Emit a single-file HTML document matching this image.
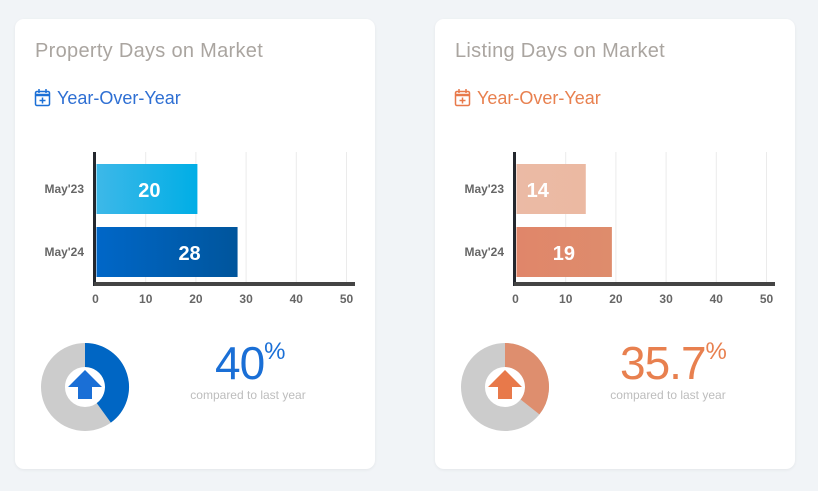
<!DOCTYPE html>
<html><head><meta charset="utf-8">
<style>
body{margin:0;width:818px;height:491px;background:#f1f4f7;position:relative;overflow:hidden;font-family:"Liberation Sans",sans-serif}
.card{position:absolute;top:19px;width:360px;height:450px;background:#fff;border-radius:9px;box-shadow:0 1px 3px rgba(0,0,0,0.06)}
.title{position:absolute;left:20px;top:21px;font-size:20px;color:#aaa5a0;letter-spacing:0.3px}
.yoy{position:absolute;left:42px;top:69px;font-size:18px}
.pct{position:absolute;font-size:46px;top:317px;letter-spacing:-1px}
.pct sup{font-size:24px;vertical-align:top;position:relative;top:2px}
.cmp{position:absolute;top:369px;font-size:12px;color:#bdbdbd;width:200px;text-align:center}
</style></head><body>
<div class="card" style="left:15px">
<div class="title">Property Days on Market</div>
<div class="yoy" style="color:#2e6fd3">Year-Over-Year</div>
<div class="pct" style="left:200px;color:#1a6fd6">40<sup>%</sup></div>
<div class="cmp" style="left:133px">compared to last year</div>
</div>
<div class="card" style="left:435px">
<div class="title">Listing Days on Market</div>
<div class="yoy" style="color:#e8804f">Year-Over-Year</div>
<div class="pct" style="left:185px;color:#e8804f">35.7<sup>%</sup></div>
<div class="cmp" style="left:133px">compared to last year</div>
</div>
<svg id="s" width="818" height="491" style="position:absolute;left:0;top:0">
<defs>
<linearGradient id="b1" x1="0" x2="1"><stop offset="0" stop-color="#3db8e8"/><stop offset="1" stop-color="#00aee6"/></linearGradient>
<linearGradient id="b2" x1="0" x2="1"><stop offset="0" stop-color="#0067c8"/><stop offset="1" stop-color="#00559c"/></linearGradient>
<linearGradient id="o1" x1="0" x2="1"><stop offset="0" stop-color="#ebbaa5"/><stop offset="1" stop-color="#ebb9a2"/></linearGradient>
<linearGradient id="o2" x1="0" x2="1"><stop offset="0" stop-color="#e0866a"/><stop offset="1" stop-color="#de8c6c"/></linearGradient>
</defs>
</svg>
<script>
const categories=["May'23","May'24"];
const leftValues=[20.3,28.3];
const leftLabels=["20","28"];
const rightValues=[14,19.2];
const rightLabels=["14","19"];
const ticks=[0,10,20,30,40,50];
const leftPct=40;
const rightPct=35.7;
const NS="http://www.w3.org/2000/svg";
const svg=document.getElementById('s');
function mk(t,a,p){const e=document.createElementNS(NS,t);for(const k in a)e.setAttribute(k,a[k]);(p||svg).appendChild(e);return e;}
function chart(ox,vals,labs,fills,pct,col,icol,name){
  const g=mk('g',{});
  
  
  const x=v=>ox+95.5+v*5.02;
  ticks.forEach(t=>{
    if(t>0){const l=mk('line',{x1:x(t),x2:x(t),y1:152,y2:282,stroke:'#ebebeb','stroke-width':1},g);
    }
    const tx=mk('text',{x:x(t),y:303,'text-anchor':'middle','font-size':12,'font-weight':'bold',fill:'#666'},g);
    
    tx.textContent=t;
  });
  const bandY=[164,227];
  vals.forEach((v,i)=>{
    const r=mk('rect',{x:x(0)+1,y:bandY[i],width:x(v)-x(0)-1,height:50,fill:fills[i]},g);
    
    const t=mk('text',{x:x(v)-48,y:bandY[i]+33,'text-anchor':'middle','font-size':20,'font-weight':'bold',fill:'#fff'},g);
    
    t.textContent=labs[i];
    const c=mk('text',{x:ox+84,y:bandY[i]+29,'text-anchor':'end','font-size':12,'font-weight':'bold',fill:'#666'},g);
    
    c.textContent=categories[i];
  });
  const ya=mk('rect',{x:ox+93,y:152,width:3,height:134,fill:'#23272e'},g);
  
  const xa=mk('rect',{x:ox+94,y:282,width:261,height:4,fill:'#444'},g);
  
  const cx=ox+85,cy=387,R=44,r=20;
  const bg=mk('circle',{cx:cx,cy:cy,r:(R+r)/2,fill:'none',stroke:'#cccccc','stroke-width':R-r},g);
  
  const a=pct/100*2*Math.PI,rm=(R+r)/2;
  const ex=cx+rm*Math.sin(a),ey=cy-rm*Math.cos(a);
  const seg=mk('path',{d:`M${cx} ${cy-rm} A${rm} ${rm} 0 ${a>Math.PI?1:0} 1 ${ex} ${ey}`,fill:'none',stroke:col,'stroke-width':R-r},g);
  
  const ar=mk('path',{d:`M${cx} ${cy-17} L${cx+17} ${cy} L${cx+7} ${cy} L${cx+7} ${cy+12} L${cx-7} ${cy+12} L${cx-7} ${cy} L${cx-17} ${cy} Z`,fill:icol},g);
  
  const ic=mk('g',{stroke:icol,'stroke-width':1.5,fill:'none'},g);
  
  mk('rect',{x:ox+35.5,y:91.5,width:14,height:14,rx:1.5},ic);
  mk('line',{x1:ox+35.5,x2:ox+49.5,y1:95,y2:95,'stroke-width':2.5},ic);
  mk('line',{x1:ox+39,x2:ox+39,y1:89,y2:93},ic);
  mk('line',{x1:ox+46,x2:ox+46,y1:89,y2:93},ic);
  mk('line',{x1:ox+42.5,x2:ox+42.5,y1:97.5,y2:103.5},ic);
  mk('line',{x1:ox+39.5,x2:ox+45.5,y1:100.5,y2:100.5},ic);
}
chart(0,leftValues,leftLabels,['url(#b1)','url(#b2)'],leftPct,'#0066c4','#1a6fd6','left-bar-chart');
chart(420,rightValues,rightLabels,['url(#o1)','url(#o2)'],rightPct,'#de8e6e','#e8794a','right-bar-chart');
</script>
</body></html>
